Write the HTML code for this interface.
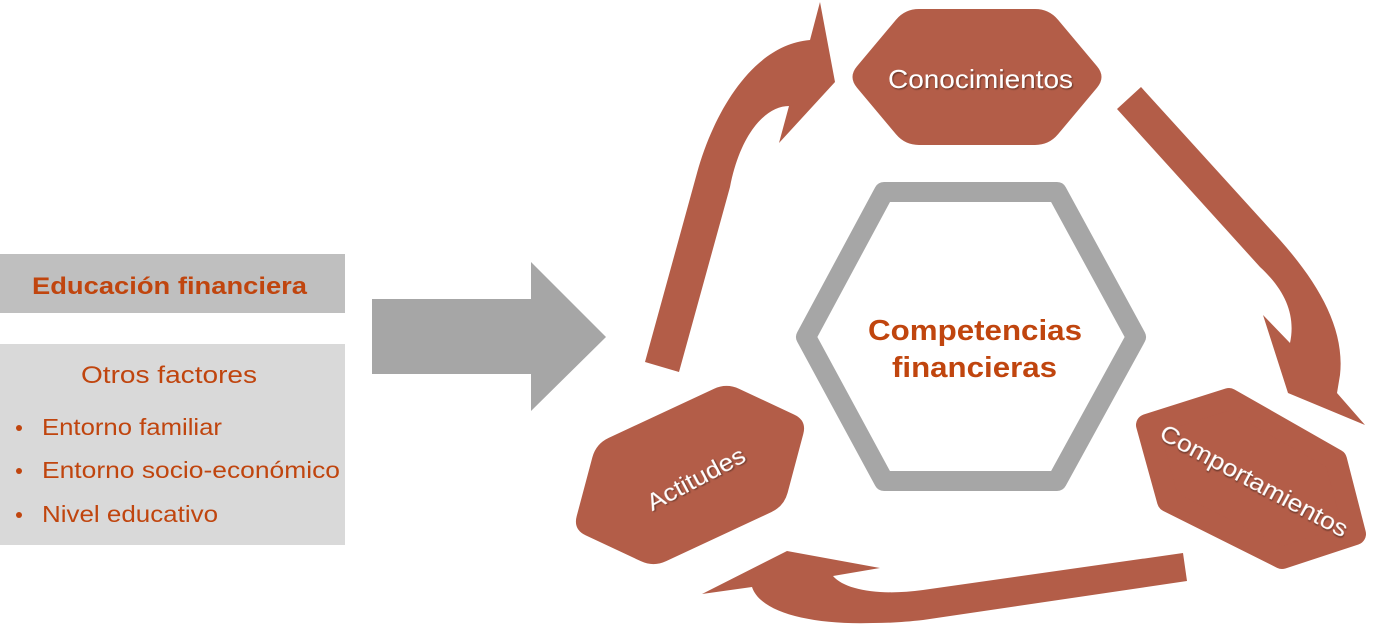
<!DOCTYPE html>
<html>
<head>
<meta charset="utf-8">
<style>
html,body{margin:0;padding:0;background:#fff;}
svg{display:block;}
text{font-family:"Liberation Sans", Arial, sans-serif;}
</style>
</head>
<body>
<svg width="1384" height="624" viewBox="0 0 1384 624" xmlns="http://www.w3.org/2000/svg">
  <defs>
    <path id="hex" d="M -120,10.7 Q -129,0 -120,-10.7 L -81,-57.3 Q -72,-68 -58,-68 L 58,-68 Q 72,-68 81,-57.3 L 120,-10.7 Q 129,0 120,10.7 L 81,57.3 Q 72,68 58,68 L -58,68 Q -72,68 -81,57.3 Z"/>
    <filter id="sh" x="-10%" y="-30%" width="120%" height="160%">
      <feDropShadow dx="1" dy="1.2" stdDeviation="0.8" flood-color="#000" flood-opacity="0.45"/>
    </filter>
  </defs>

  <!-- Left boxes -->
  <rect x="0" y="254" width="345" height="59" fill="#bfbfbf"/>
  <text x="32" y="294" font-size="24.5" font-weight="bold" fill="#c0450e" textLength="275" lengthAdjust="spacingAndGlyphs">Educación financiera</text>

  <rect x="0" y="344" width="345" height="201" fill="#d9d9d9"/>
  <text x="81" y="383" font-size="24" fill="#c0450e" textLength="176" lengthAdjust="spacingAndGlyphs">Otros factores</text>
  <circle cx="19" cy="428" r="3" fill="#c0450e"/>
  <text x="42" y="435" font-size="23" fill="#c0450e" textLength="180" lengthAdjust="spacingAndGlyphs">Entorno familiar</text>
  <circle cx="19" cy="471" r="3" fill="#c0450e"/>
  <text x="42" y="478" font-size="23" fill="#c0450e" textLength="298" lengthAdjust="spacingAndGlyphs">Entorno socio-económico</text>
  <circle cx="19" cy="515" r="3" fill="#c0450e"/>
  <text x="42" y="522" font-size="23" fill="#c0450e" textLength="176" lengthAdjust="spacingAndGlyphs">Nivel educativo</text>

  <!-- Gray arrow -->
  <polygon points="372,299 531,299 531,262 606,337 531,411 531,374 372,374" fill="#a6a6a6"/>

  <!-- Central gray hexagon -->
  <polygon points="806,337 884,192 1057,192 1136,337 1057,481 884,481" fill="#fff" stroke="#a6a6a6" stroke-width="20" stroke-linejoin="round"/>
  <text x="868" y="340" font-size="29" font-weight="bold" fill="#c0450e" textLength="214" lengthAdjust="spacingAndGlyphs">Competencias</text>
  <text x="892" y="377" font-size="29" font-weight="bold" fill="#c0450e" textLength="165" lengthAdjust="spacingAndGlyphs">financieras</text>

  <!-- Curved arrows -->
  <path d="M645,362 L697,173 C712,118 750,45 810,40 L820,2 L835,82 L779,143 L789,106 C765,106 740,135 730,187 L679,372 Z" fill="#b35d48"/>
  <path d="M1117,109 L1141,87 L1280,240 C1320,285 1345,330 1340,375 L1337,393 L1365,425 L1288,393 L1263,315 L1290,343 C1296,315 1285,290 1260,267 Z" fill="#b35d48"/>
  <path d="M1183,553 L923,590 C880,596 845,590 833,576 L880,568 L787,551 L702,594 L752,587 C760,612 810,625 873,623 C890,623 905,622 923,620 L1187,581 Z" fill="#b35d48"/>

  <!-- Red hexagons -->
  <use href="#hex" transform="translate(977,77)" fill="#b35d48"/>
  <text x="980.5" y="88" font-size="26" fill="#fff" text-anchor="middle" textLength="185" lengthAdjust="spacingAndGlyphs" filter="url(#sh)">Conocimientos</text>

  <polygon points="1147,425 1229,399 1336,460 1355,534 1282,558 1168,501" fill="#b35d48" stroke="#b35d48" stroke-width="22" stroke-linejoin="round"/>
  <g transform="translate(1254,481) rotate(28.4)">
    <text x="0" y="8" font-size="24" fill="#fff" text-anchor="middle" textLength="210" lengthAdjust="spacingAndGlyphs" filter="url(#sh)">Comportamientos</text>
  </g>

  <use href="#hex" transform="translate(690,475) rotate(-25)" fill="#b35d48"/>
  <g transform="translate(696,479) rotate(-28)">
    <text x="0" y="8" font-size="24" fill="#fff" text-anchor="middle" textLength="108" lengthAdjust="spacingAndGlyphs" filter="url(#sh)">Actitudes</text>
  </g>
</svg>
</body>
</html>
